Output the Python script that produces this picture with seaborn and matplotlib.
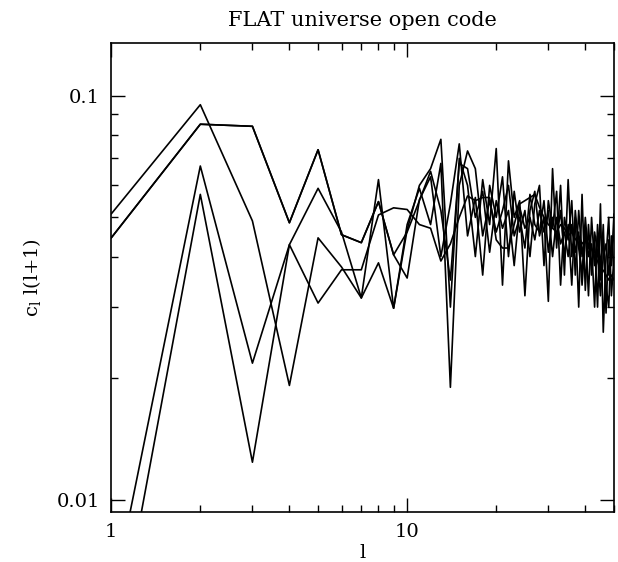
import numpy as np
import pandas as pd
import seaborn as sns
import matplotlib.pyplot as plt
from matplotlib.ticker import LogLocator, NullFormatter, FixedLocator, FixedFormatter

ell = list(range(1, 51))

run_a = [0.051, 0.095, 0.049, 0.0192, 0.0445, 0.0377, 0.0316, 0.062, 0.0298, 0.0466,
         0.060, 0.066, 0.078, 0.030, 0.070, 0.060, 0.040, 0.062, 0.048, 0.074,
         0.034, 0.069, 0.050, 0.055, 0.032, 0.052, 0.058, 0.045, 0.050, 0.031,
         0.066, 0.042, 0.060, 0.036, 0.062, 0.040, 0.050, 0.030, 0.057, 0.033,
         0.048, 0.036, 0.044, 0.030, 0.054, 0.026, 0.040, 0.050, 0.032, 0.040]
run_b = [0.0445, 0.085, 0.084, 0.0485, 0.0735, 0.0453, 0.0433, 0.0547, 0.0404, 0.0354,
         0.0553, 0.063, 0.040, 0.054, 0.076, 0.045, 0.056, 0.036, 0.060, 0.050,
         0.063, 0.040, 0.058, 0.046, 0.052, 0.040, 0.054, 0.060, 0.038, 0.055,
         0.047, 0.058, 0.034, 0.050, 0.044, 0.055, 0.036, 0.052, 0.040, 0.047,
         0.032, 0.050, 0.038, 0.045, 0.035, 0.048, 0.029, 0.044, 0.038, 0.051]
run_c = [0.0055, 0.067, 0.0218, 0.0428, 0.059, 0.046, 0.0316, 0.0386, 0.0298, 0.048,
         0.059, 0.048, 0.068, 0.019, 0.060, 0.073, 0.066, 0.045, 0.055, 0.046,
         0.052, 0.060, 0.045, 0.050, 0.042, 0.057, 0.048, 0.046, 0.055, 0.041,
         0.050, 0.044, 0.052, 0.040, 0.048, 0.034, 0.052, 0.042, 0.036, 0.050,
         0.040, 0.043, 0.030, 0.048, 0.038, 0.044, 0.034, 0.030, 0.045, 0.037]
run_d = [0.0037, 0.057, 0.0124, 0.0428, 0.0307, 0.0371, 0.0371, 0.0507, 0.0528, 0.0523,
         0.048, 0.047, 0.039, 0.043, 0.050, 0.0565, 0.055, 0.056, 0.056, 0.044,
         0.042, 0.042, 0.048, 0.054, 0.055, 0.056, 0.057, 0.053, 0.050, 0.048,
         0.047, 0.046, 0.048, 0.047, 0.045, 0.046, 0.044, 0.045, 0.043, 0.044,
         0.042, 0.042, 0.040, 0.039, 0.037, 0.037, 0.036, 0.035, 0.036, 0.035]
run_e = [0.0445, 0.085, 0.084, 0.0485, 0.0735, 0.0453, 0.0433, 0.0547, 0.0404, 0.046,
         0.055, 0.065, 0.052, 0.035, 0.068, 0.066, 0.050, 0.058, 0.041, 0.055,
         0.047, 0.052, 0.038, 0.053, 0.047, 0.050, 0.044, 0.052, 0.046, 0.052,
         0.040, 0.050, 0.043, 0.046, 0.040, 0.048, 0.041, 0.046, 0.034, 0.045,
         0.043, 0.038, 0.046, 0.041, 0.032, 0.040, 0.043, 0.036, 0.042, 0.045]

runs = {"a": run_a, "b": run_b, "c": run_c, "d": run_d, "e": run_e}
df = pd.concat([pd.DataFrame({"l": ell, "cl": v, "run": k}) for k, v in runs.items()])

sns.set_theme(style="ticks")
plt.rcParams['font.family'] = ['DejaVu Serif']
plt.rcParams['mathtext.fontset'] = 'dejavuserif'
plt.rcParams['text.color'] = 'black'
plt.rcParams['axes.labelcolor'] = 'black'

fig = plt.figure(figsize=(6.18, 5.62), dpi=100)
ax = fig.add_axes([0.18, 0.089, 0.8135, 0.8345])
sns.lineplot(data=df, x="l", y="cl", units="run", estimator=None, color="black",
             linewidth=1.2, ax=ax, legend=False)
ax.set_xscale("log")
ax.set_yscale("log")
ax.set_xlim(1, 50)
ax.set_ylim(0.00934, 0.135)

ax.xaxis.set_major_locator(FixedLocator([1, 10]))
ax.xaxis.set_major_formatter(FixedFormatter(["1", "10"]))
ax.xaxis.set_minor_locator(LogLocator(base=10, subs=np.arange(2, 10)))
ax.xaxis.set_minor_formatter(NullFormatter())
ax.yaxis.set_major_locator(FixedLocator([0.01, 0.1]))
ax.yaxis.set_major_formatter(FixedFormatter(["0.01", "0.1"]))
ax.yaxis.set_minor_locator(LogLocator(base=10, subs=np.arange(2, 10)))
ax.yaxis.set_minor_formatter(NullFormatter())

ax.tick_params(which="both", direction="in", top=True, right=True, colors="black",
               labelcolor="black", labelsize=14, width=1.0)
ax.tick_params(which="major", length=10, pad=8)
ax.tick_params(which="minor", length=5)
for s in ax.spines.values():
    s.set_linewidth(1.2)
    s.set_color("black")

ax.set_xlabel("l", fontsize=14, labelpad=2)
ax.set_ylabel(r"c$_\mathrm{l}$ l(l+1)", fontsize=14, labelpad=10)
ax.set_title("FLAT universe open code", fontsize=15, pad=12)

fig.savefig("out.png", dpi=100)
